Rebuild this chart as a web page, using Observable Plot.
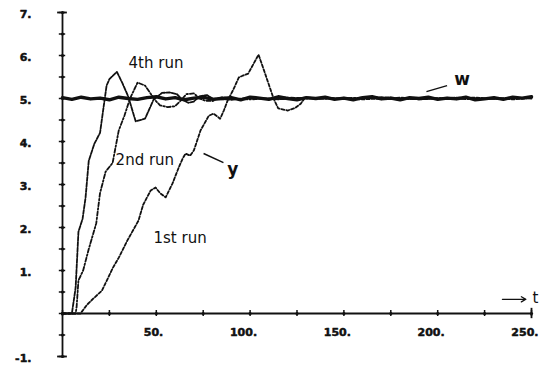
<!DOCTYPE html>
<html>
<head>
<meta charset="utf-8">
<script src="https://cdn.jsdelivr.net/npm/d3@7"></script>
<script src="https://cdn.jsdelivr.net/npm/@observablehq/plot@0.6"></script>
<style>
  html, body { margin: 0; padding: 0; background: #fff; }
  #chart svg { display: block; }
</style>
</head>
<body>
<div id="chart"></div>
<script>
// ---- data ----
const yTickValues = [-1, -0.5, 0, 0.5, 1, 1.5, 2, 2.5, 3, 3.5, 4, 4.5, 5, 5.5, 6, 6.5, 7];
const yTickLabels = [-1, 1, 2, 3, 4, 5, 6, 7];
const xTickValues = [0, 25, 50, 75, 100, 125, 150, 175, 200, 225, 250];
const xTickLabels = [50, 100, 150, 200, 250];

// set point w (noisy, around 5)
const wT = [0,5,10,15,20,25,30,35,40,45,50,55,60,65,70,75,80,85,90,95,100,105,110,115,120,125,130,135,140,145,150,155,160,165,170,175,180,185,190,195,200,205,210,215,220,225,230,235,240,245,250];
const wV = [5.02,4.98,5.03,4.99,5.01,4.97,5.03,5.0,4.98,5.02,5.04,4.99,5.02,4.97,5.01,5.03,4.98,5.0,5.02,4.97,5.03,5.01,4.98,5.04,5.0,4.97,5.02,5.0,5.03,4.98,5.01,4.97,5.02,5.04,4.99,5.01,4.97,5.02,5.0,5.03,4.98,5.01,4.99,5.03,4.97,4.99,5.02,4.98,5.03,5.01,5.04];

// 4th run
const run4T = [0,5,7,8.5,10.7,12.3,14,17,20,23.5,25,29,32,35,39,44,48.5,53,57,61,64,67,70,73,77,80,90,100,115,130,150,170,190,210,230,250];
const run4V = [0,0,0.6,1.9,2.2,2.7,3.55,3.95,4.2,5.3,5.45,5.62,5.35,5.05,4.47,4.53,4.97,5.13,5.14,5.1,4.97,4.9,4.93,5.05,5.08,5.0,4.97,5.02,4.98,5.02,4.99,5.03,4.98,5.02,4.99,5.02];

// 2nd run
const run2T = [0,7,7.5,8.5,11,14,18,20,23,26.7,30,33,36,40,44,49.6,52,56,60,63,66,70,73,76,80,84,90,100,120,140,160,180,200,220,240,250];
const run2V = [0,0,0.14,0.77,1.0,1.5,2.1,2.8,3.3,3.5,4.26,4.6,5.0,5.37,5.3,4.95,4.84,4.8,4.82,4.95,5.1,5.12,5.0,4.95,4.94,5.03,5.0,4.98,5.02,4.99,5.02,4.98,5.01,4.98,5.02,5.0];

// 1st run
const run1T = [0,9.6,13,16.5,21,24,26.7,30,34.6,40.5,43,47,49.6,52,55,58.6,62,64,65.6,68,70,73.6,78,80.5,84,86,88,91,94,96,99,104.5,108,112.5,115,120,124,127,129,140,160,180,200,220,240,250];
const run1V = [0,0,0.2,0.35,0.53,0.8,1.05,1.3,1.7,2.16,2.53,2.86,2.93,2.8,2.7,3.02,3.4,3.6,3.72,3.67,3.79,4.26,4.6,4.65,4.53,4.72,4.95,5.2,5.49,5.53,5.58,6.02,5.58,5.0,4.77,4.72,4.78,4.88,5.0,5.02,4.98,5.02,4.99,5.02,4.98,5.01];

// annotations
const runLabels = [
  {t: 35.2, v: 5.81, text: "4th run"},
  {t: 28.3, v: 3.56, text: "2nd run"},
  {t: 48.5, v: 1.76, text: "1st run"}
];
const signalLabels = [
  {t: 213, v: 5.45, text: "w"},
  {t: 90.8, v: 3.35, text: "y"}
];
const pointers = [
  {t1: 194, v1: 5.16, t2: 205, v2: 5.3},
  {t1: 75.2, v1: 3.72, t2: 85.8, v2: 3.51}
];
const timeArrow = [{t1: 234.5, v1: 0.33, t2: 247, v2: 0.33}];
const timeLabel = [{t: 250, v: 0.35, text: "t"}];

// ---- build tables ----
const zip = (T, V) => T.map((t, i) => ({t, v: V[i]}));
const w = zip(wT, wV);
const run4 = zip(run4T, run4V);
const run2 = zip(run2T, run2V);
const run1 = zip(run1T, run1V);

const ink = "#111";

const chart = Plot.plot({
  width: 540,
  height: 368,
  marginLeft: 62,
  marginRight: 9,
  marginTop: 12,
  marginBottom: 12,
  x: {domain: [0, 250], axis: null},
  y: {domain: [-1, 7], axis: null},
  style: {background: "#fff", color: ink, fontFamily: "DejaVu Sans"},
  marks: [
    // axes
    Plot.ruleX([0], {y1: -1, y2: 7, stroke: ink, strokeWidth: 1.8}),
    Plot.ruleY([0], {x1: 0, x2: 250, stroke: ink, strokeWidth: 1.8}),
    Plot.ruleY(yTickValues, {y: d => d, x1: -1.7, x2: 1.7, stroke: ink, strokeWidth: 1.5}),
    Plot.ruleY([-1, 7], {y: d => d, x1: -2.6, x2: 2.6, stroke: ink, strokeWidth: 1.8}),
    Plot.dot(yTickValues, {x: 0, y: d => d, r: 1.6, fill: ink, stroke: null}),
    Plot.ruleX(xTickValues, {x: d => d, y1: -0.07, y2: 0.07, stroke: ink, strokeWidth: 1.5}),
    Plot.ruleX([250], {x: d => d, y1: -0.12, y2: 0.12, stroke: ink, strokeWidth: 1.8}),
    Plot.dot(xTickValues, {x: d => d, y: 0, r: 1.6, fill: ink, stroke: null}),
    // tick labels
    Plot.text(yTickLabels, {x: 0, y: d => d, text: d => d + ".", textAnchor: "end", dx: -31, dy: 1.5,
      fontSize: 11, fontWeight: "bold", fill: ink, stroke: ink, strokeWidth: 0.5, ariaLabel: "ticklabels"}),
    Plot.text(xTickLabels, {x: d => d, y: 0, text: d => d + ".", textAnchor: "end", dx: 7, dy: 18.5,
      fontSize: 11, fontWeight: "bold", fill: ink, stroke: ink, strokeWidth: 0.5, ariaLabel: "ticklabels"}),
    // set point
    Plot.line(w, {x: "t", y: "v", stroke: ink, strokeWidth: 3.4}),
    // runs
    Plot.line(run4, {x: "t", y: "v", stroke: ink, strokeWidth: 1.8, strokeDasharray: "4,1.5"}),
    Plot.line(run2, {x: "t", y: "v", stroke: ink, strokeWidth: 1.8, strokeDasharray: "4,2,1.5,2"}),
    Plot.line(run1, {x: "t", y: "v", stroke: ink, strokeWidth: 1.8, strokeDasharray: "3,2"}),
    // annotations
    Plot.text(runLabels, {x: "t", y: "v", text: "text", textAnchor: "start", fontSize: 15, fill: ink, ariaLabel: "runlabels"}),
    Plot.text(signalLabels, {x: "t", y: "v", text: "text", textAnchor: "middle", fontSize: 17, fontWeight: "bold", fill: ink}),
    Plot.link(pointers, {x1: "t1", y1: "v1", x2: "t2", y2: "v2", stroke: ink, strokeWidth: 1.5}),
    Plot.arrow(timeArrow, {x1: "t1", y1: "v1", x2: "t2", y2: "v2", stroke: ink, strokeWidth: 1.3, headLength: 6, bend: 0}),
    Plot.text(timeLabel, {x: "t", y: "v", text: "text", dx: 4, fontSize: 15, fill: ink})
  ]
});

d3.select(chart).selectAll('g[aria-label="ticklabels"] text').style("letter-spacing", "1px");
d3.select(chart).selectAll('g[aria-label="runlabels"] text').style("letter-spacing", "1px");
document.getElementById("chart").appendChild(chart);
</script>
</body>
</html>
